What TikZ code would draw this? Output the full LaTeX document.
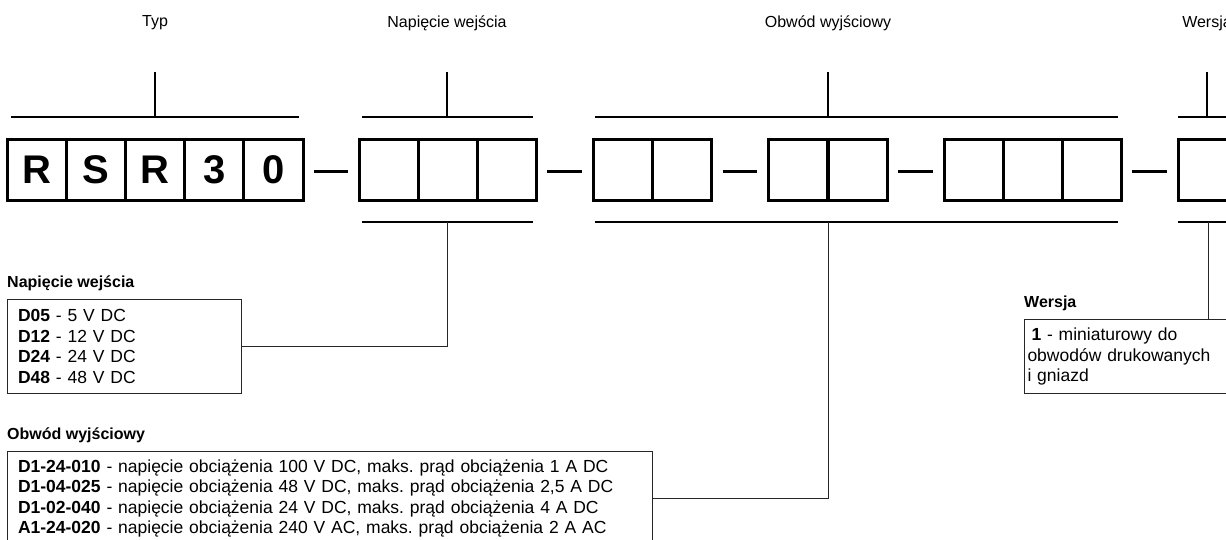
\documentclass[tikz,border=0pt]{standalone}
\usepackage{fontspec}
\setmainfont{Liberation Sans}
\usetikzlibrary{positioning}
\frenchspacing
\tikzset{
	cell/.style={draw,line width=3pt,minimum width=59.2pt,minimum height=61pt,inner sep=0pt,outer sep=0pt,anchor=north west,font=\bfseries\fontsize{40}{40}\selectfont},
	sep/.style={line width=2.5pt,shorten <=11pt,shorten >=11pt},
	brace/.style={line width=2pt},
	link/.style={line width=1pt,black!85},
	infobox/.style={draw=black!85,line width=1pt,anchor=north west,align=left,inner xsep=10.5pt,inner ysep=0pt,font=\fontsize{17.5}{20.4}\selectfont},
	head/.style={inner sep=0pt,font=\fontsize{16}{19}\selectfont},
	title/.style={anchor=west,inner sep=0pt,font=\bfseries\fontsize{16}{19}\selectfont}
}
\begin{document}
\begin{tikzpicture}[x=1pt,y=-1pt,line join=miter]
	\path[use as bounding box,fill=white] (0,0) rectangle (1226,539);
	\clip (0,0) rectangle (1226,539);
	% naglowki
	\node[head] (htyp) at (155,23) {Typ};
	\node[head] (hnap) at (447,23) {Napięcie wejścia};
	\node[head] (hobw) at (828,23) {Obwód wyjściowy};
	\node[head] (hwer) at (1207,23) {Wersja};
	% pola kodu
	\foreach \t [count=\i from 0] in {R,S,R,3,0}
	\node[cell] (t\i) at ({7+59.2*\i},139) {\t};
	\foreach \i in {0,1,2} \node[cell] (n\i) at ({359+59*\i},139) {};
	\foreach \i in {0,1} \node[cell] (o\i) at ({593+59.5*\i},139) {};
	\foreach \i in {0,1} \node[cell] (p\i) at ({768+60*\i},139) {};
	\foreach \i in {0,1,2} \node[cell] (q\i) at ({944+59*\i},139) {};
	\node[cell] (w0) at (1178,139) {};
	\foreach \a/\b in {t4/n0,n2/o0,o1/p0,p1/q0,q2/w0}
	\draw[sep] ([yshift=-2pt]\a.east)--([yshift=-2pt]\b.west);
	% klamry gorne
	\coordinate (typtop) at (155,117);
	\coordinate (naptop) at (447,117);
	\coordinate (obwtop) at (828,117);
	\coordinate (wertop) at (1207,117);
	\draw[brace] (11,117)--(299,117) (typtop)--++(0,-45)
	(362,117)--(533,117) (naptop)--++(0,-45)
	(595,117)--(1118,117) (obwtop)--++(0,-45)
	(1178,117)--(1240,117) (wertop)--++(0,-45);
	% klamry dolne
	\coordinate (napbot) at (447,222);
	\coordinate (obwbot) at (828,222);
	\coordinate (werbot) at (1208,222);
	\draw[brace] (362,222)--(533,222) (595,222)--(1118,222) (1178,222)--(1240,222);
	% opisy
	\node[title] (tnap) at (7,283) {Napięcie wejścia};
	\node[infobox,text width=213pt,minimum height=94pt] (bnap) at (7,299)
	{\textbf{D05} - 5 V DC\\\textbf{D12} - 12 V DC\\\textbf{D24} - 24 V DC\\\textbf{D48} - 48 V DC};
	\node[title] (tobw) at (7,435) {Obwód wyjściowy};
	\node[infobox,text width=624pt,minimum height=94pt] (bobw) at (7,451)
	{\textbf{D1-24-010} - napięcie obciążenia 100 V DC, maks. prąd obciążenia 1 A DC\\
	\textbf{D1-04-025} - napięcie obciążenia 48 V DC, maks. prąd obciążenia 2,5 A DC\\
	\textbf{D1-02-040} - napięcie obciążenia 24 V DC, maks. prąd obciążenia 4 A DC\\
	\textbf{A1-24-020} - napięcie obciążenia 240 V AC, maks. prąd obciążenia 2 A AC};
	\node[title] (twer) at (1024,303) {Wersja};
	\node[infobox,inner xsep=3pt,text width=210pt,minimum height=74pt] (bwer) at (1024,319)
	{\hspace{4pt}\textbf{1} - miniaturowy do\\obwodów drukowanych\\i gniazd};
	% polaczenia
	\draw[link] (napbot)|-(bnap);
	\draw[link] (obwbot)|-(bobw);
	\draw[link] (werbot)--(werbot|-bwer.north);
\end{tikzpicture}
\end{document}
